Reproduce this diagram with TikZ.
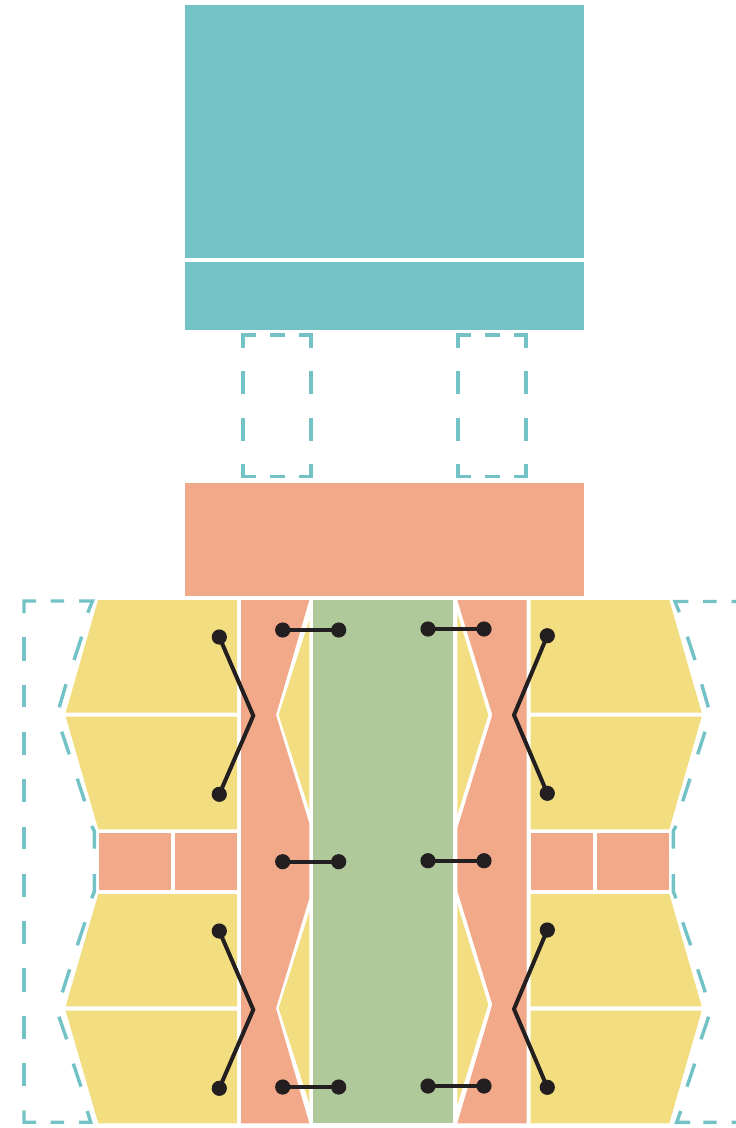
\documentclass[tikz,border=0pt]{standalone}
\definecolor{tealc}{HTML}{73C2C6}
\definecolor{salmonc}{HTML}{F1A98A}
\definecolor{yellowc}{HTML}{F2DD80}
\definecolor{greenc}{HTML}{AFC99A}
\definecolor{inkc}{HTML}{231F20}
\tikzset{
  tealblock/.style={fill=tealc,draw=none},
  salmonblock/.style={fill=salmonc,draw=none},
  yellowblock/.style={fill=yellowc,draw=none},
  greenblock/.style={fill=greenc,draw=none},
  tealdash/.style={draw=tealc,line width=3.4pt,miter limit=10},
  dotnode/.style={circle,fill=inkc,draw=none,inner sep=0pt,minimum size=15.2pt},
  linkline/.style={draw=inkc,line width=4pt,miter limit=10}
}
\begin{document}
\begin{tikzpicture}[x=1pt,y=-1pt]
\fill[white] (0,0) rectangle (736,1128);
\useasboundingbox (0,0) rectangle (736,1128);
% top blocks
\path[tealblock] (185,5) rectangle (584,258);
\path[tealblock] (185,262) rectangle (584,329.5);
\path[salmonblock] (185,482.7) rectangle (584,596);
% dashed connectors boxes
\foreach \xa/\xb in {243/311,458/526}{
  \pgfmathsetmacro{\xc}{\xa+12.5}
  \pgfmathsetmacro{\xd}{\xb-12.5}
  \pgfmathsetmacro{\xe}{\xa+27}
  \pgfmathsetmacro{\xf}{\xa+41.5}
  \path[tealdash]
    (\xa,347.5) -- (\xa,335) -- (\xc,335)
    (\xe,335) -- (\xf,335)
    (\xd,335) -- (\xb,335) -- (\xb,347.5)
    (\xa,371) -- (\xa,394) (\xb,371) -- (\xb,394)
    (\xa,417.5) -- (\xa,441) (\xb,417.5) -- (\xb,441)
    (\xa,464) -- (\xa,476.5) -- (\xc,476.5)
    (\xe,476.5) -- (\xf,476.5)
    (\xd,476.5) -- (\xb,476.5) -- (\xb,464);
}
% left dashed outline
\path[tealdash]
  (24,613) -- (24,601) -- (36,601) (50.7,601) -- (64,601)
  (79,601) -- (92.5,601) -- (87.8,612.7)
  (81.7,636.7) -- (74,660) (66,684.3) -- (59.3,707.3)
  (61.7,731.7) -- (69.3,754.3) (77.3,778.7) -- (84.7,801.3)
  (91.7,826) -- (94.3,831) -- (94.3,848.7)
  (94.3,874) -- (94.3,891.5) -- (91.7,898.3)
  (85,922.3) -- (77.3,945.3) (69.7,969.3) -- (62.3,992.3)
  (59,1016.7) -- (66.7,1039.3) (73.3,1063.7) -- (81,1086.7)
  (87.3,1111) -- (90.7,1122.2) -- (79,1122.2) (64,1122.2) -- (50.7,1122.2)
  (36,1122.2) -- (24,1122.2) -- (24,1110.3);
\foreach \ya/\yb in {637.3/660.7,684.7/707.3,732/755,779.3/801.7,826.7/849.3,874/897.3,921/944.3,968.3/991.7,1015.7/1039,1063/1086.3}{
  \path[tealdash] (24,\ya) -- (24,\yb);
}
% right dashed outline
\path[tealdash]
  (679.3,612.3) -- (675,601.5) -- (688.3,601.5) (703,601.5) -- (716.7,601.5) (731.7,601.5) -- (736,601.5)
  (687.3,636.7) -- (695,660) (701.7,684.3) -- (708.3,707.3)
  (705,731.7) -- (697.7,754.3) (690,778.7) -- (682.7,801.3)
  (676,826) -- (673.3,831) -- (673.3,848.7)
  (673.3,874) -- (673.3,891.5) -- (676,898.3)
  (682.7,922.3) -- (690.7,945.3) (697.7,969.3) -- (705.3,992.3)
  (708.7,1016.7) -- (701,1039.3) (694.7,1063.7) -- (687,1086.7)
  (680.7,1111) -- (676.7,1122.3) -- (690,1122.3) (703.3,1122.3) -- (716.7,1122.3) (731.7,1122.3) -- (736,1122.3);
% left yellows
\path[yellowblock] (98,600) -- (237,600) -- (237,712.7) -- (65.7,712.7) -- cycle;
\path[yellowblock] (65.7,716.7) -- (237,716.7) -- (237,829.3) -- (98.3,829.3) -- cycle;
\path[yellowblock] (98.3,894) -- (237,894) -- (237,1006.3) -- (65.7,1006.3) -- cycle;
\path[yellowblock] (65.7,1010.7) -- (237,1010.7) -- (237,1123.3) -- (98.3,1123.3) -- cycle;
% left small salmon
\path[salmonblock] (99,833.3) rectangle (171,890);
\path[salmonblock] (175.3,833.3) rectangle (237,890);
% left salmon column
\path[salmonblock] (241,600) -- (309.3,600) -- (276,715) -- (309.3,823.3) -- (309.3,898.3) -- (276,1008.3) -- (309.3,1123.3) -- (241,1123.3) -- cycle;
\path[yellowblock] (309.3,620) -- (278.7,715) -- (309.3,810) -- cycle;
\path[yellowblock] (309.3,911.7) -- (278.7,1008.3) -- (309.3,1103.3) -- cycle;
% green
\path[greenblock] (312.7,600) rectangle (453.3,1123.3);
% right salmon column
\path[salmonblock] (457.3,600) -- (526.7,600) -- (526.7,1123.3) -- (457.3,1123.3) -- (492.3,1004.5) -- (457.3,890.7) -- (457.3,828.3) -- (492.3,715) -- cycle;
\path[yellowblock] (457.3,613.3) -- (488.3,715) -- (457.3,815) -- cycle;
\path[yellowblock] (457.3,904) -- (488.3,1004.5) -- (457.3,1105) -- cycle;
% right yellows
\path[yellowblock] (530.7,600) -- (669.3,600) -- (701.7,712.7) -- (530.7,712.7) -- cycle;
\path[yellowblock] (530.7,716.7) -- (701.7,716.7) -- (669.3,829.3) -- (530.7,829.3) -- cycle;
\path[yellowblock] (530.7,894) -- (669.3,894) -- (701.7,1006.3) -- (530.7,1006.3) -- cycle;
\path[yellowblock] (530.7,1010.7) -- (701.7,1010.7) -- (669.3,1123.3) -- (530.7,1123.3) -- cycle;
% right small salmon
\path[salmonblock] (530.7,833.3) rectangle (592.7,890);
\path[salmonblock] (596.7,833.3) rectangle (669,890);
% dots
\node[dotnode] (la) at (219.3,637) {};
\node[dotnode] (lb) at (219.3,794.3) {};
\node[dotnode] (lc) at (219.3,931) {};
\node[dotnode] (ld) at (219.3,1088.3) {};
\coordinate (le) at (253.3,715.7);
\coordinate (lf) at (253.3,1009.7);
\node[dotnode] (ra) at (547.3,635.7) {};
\node[dotnode] (rb) at (547.3,793.3) {};
\node[dotnode] (rc) at (547.3,930) {};
\node[dotnode] (rd) at (547.3,1087.3) {};
\coordinate (re) at (514,715);
\coordinate (rf) at (514,1009);
\node[dotnode] (h1a) at (282.7,630) {};
\node[dotnode] (h1b) at (338.7,630) {};
\node[dotnode] (h2a) at (282.7,861.7) {};
\node[dotnode] (h2b) at (338.7,861.7) {};
\node[dotnode] (h3a) at (282.7,1087) {};
\node[dotnode] (h3b) at (338.7,1087) {};
\node[dotnode] (h4a) at (428,629) {};
\node[dotnode] (h4b) at (484,629) {};
\node[dotnode] (h5a) at (428,860.7) {};
\node[dotnode] (h5b) at (484,860.7) {};
\node[dotnode] (h6a) at (428,1086) {};
\node[dotnode] (h6b) at (484,1086) {};
% links
\draw[linkline] (la.center) -- (le) -- (lb.center);
\draw[linkline] (lc.center) -- (lf) -- (ld.center);
\draw[linkline] (ra.center) -- (re) -- (rb.center);
\draw[linkline] (rc.center) -- (rf) -- (rd.center);
\foreach \n in {1,...,6}{
  \draw[linkline] (h\n a.center) -- (h\n b.center);
}
\end{tikzpicture}
\end{document}
